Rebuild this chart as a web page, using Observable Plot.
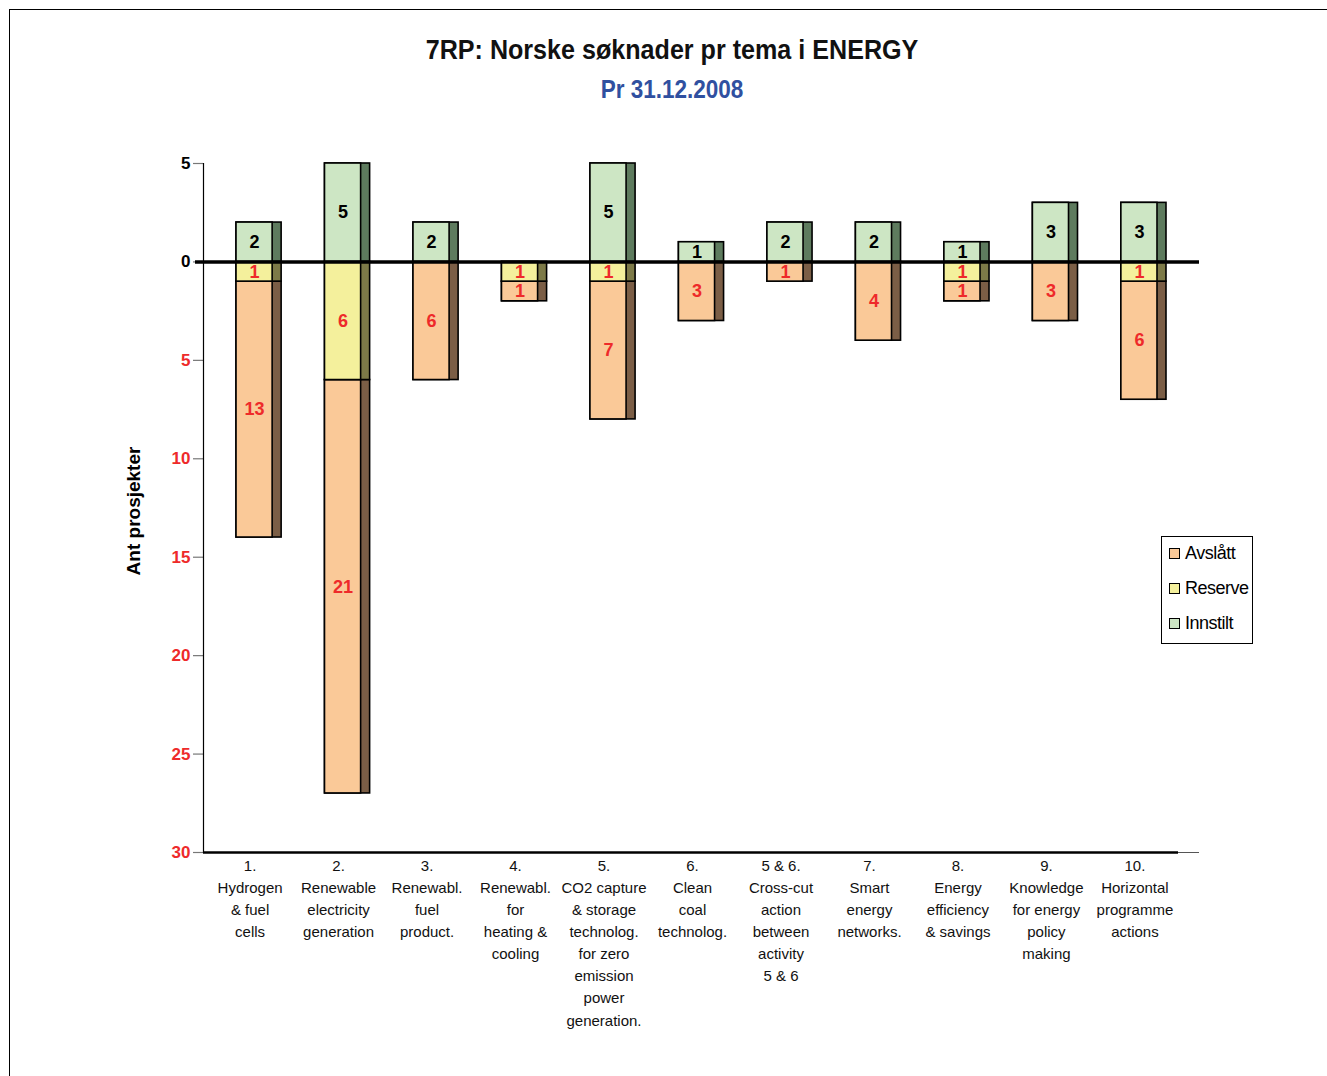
<!DOCTYPE html>
<html>
<head>
<meta charset="utf-8">
<script src="https://cdn.jsdelivr.net/npm/d3@7"></script>
<script src="https://cdn.jsdelivr.net/npm/@observablehq/plot@0.6"></script>
<style>
  html, body { margin: 0; padding: 0; background: #fff; overflow: hidden; }
  body { width: 1327px; height: 1076px; position: relative; font-family: "Liberation Sans", Arial, sans-serif; }
  #frame { position: absolute; left: 9px; top: 9px; width: 1330px; height: 1100px; border: 1px solid #000; box-sizing: border-box; }
  #title { position: absolute; left: 0; width: 1344px; top: 35px; text-align: center; font-weight: bold; font-size: 27px; color: #111; transform: scaleX(0.93); transform-origin: 672px 0; }
  #subtitle { position: absolute; left: 0; width: 1344px; top: 75px; text-align: center; font-weight: bold; font-size: 25px; color: #3050A0; transform: scaleX(0.9); transform-origin: 672px 0; }
  #chart { position: absolute; left: 0; top: 130px; }
  #legend { position: absolute; left: 1161px; top: 536px; width: 92px; height: 108px; border: 1px solid #000; background: #fff; box-sizing: border-box; font-size: 18px; letter-spacing: -0.5px; }
  .item { position: absolute; left: 7px; height: 22px; line-height: 22px; white-space: nowrap; }
  .sw { display: inline-block; width: 9px; height: 9px; border: 1px solid #000; margin-right: 5px; vertical-align: 0px; }
</style>
</head>
<body>
<div id="frame"></div>
<div id="title">7RP: Norske søknader pr tema i ENERGY</div>
<div id="subtitle">Pr 31.12.2008</div>
<div id="chart"></div>
<div id="legend"></div>
<script>
const categories = [
  "1.\nHydrogen\n& fuel\ncells",
  "2.\nRenewable\nelectricity\ngeneration",
  "3.\nRenewabl.\nfuel\nproduct.",
  "4.\nRenewabl.\nfor\nheating &\ncooling",
  "5.\nCO2 capture\n& storage\ntechnolog.\nfor zero\nemission\npower\ngeneration.",
  "6.\nClean\ncoal\ntechnolog.",
  "5 & 6.\nCross-cut\naction\nbetween\nactivity\n5 & 6",
  "7.\nSmart\nenergy\nnetworks.",
  "8.\nEnergy\nefficiency\n& savings",
  "9.\nKnowledge\nfor energy\npolicy\nmaking",
  "10.\nHorizontal\nprogramme\nactions"
];
const innstilt = [2, 5, 2, 0, 5, 1, 2, 2, 1, 3, 3];
const reserve  = [1, 6, 0, 1, 1, 0, 0, 0, 1, 0, 1];
const avslatt  = [13, 21, 6, 1, 7, 3, 1, 4, 1, 3, 6];
const seriesNames = ["Avslått", "Reserve", "Innstilt"];
const yTicks = [5, 0, -5, -10, -15, -20, -25, -30];
const yLabel = "Ant prosjekter";

const frontColor = {"Avslått": "#FAC998", "Reserve": "#F4F09C", "Innstilt": "#CDE6C4"};
const sideColor  = {"Avslått": "#7B5E46", "Reserve": "#7D7A48", "Innstilt": "#5E7B5E"};
const textColor  = {"Avslått": "#EE2A2A", "Reserve": "#EE2A2A", "Innstilt": "#000"};

// Build stacked segments (Innstilt upward, Reserve then Avslått downward)
const segments = [];
categories.forEach((c, i) => {
  if (innstilt[i] > 0) segments.push({cat: c, series: "Innstilt", y1: 0, y2: innstilt[i], value: innstilt[i]});
  if (reserve[i] > 0) segments.push({cat: c, series: "Reserve", y1: 0, y2: -reserve[i], value: reserve[i]});
  if (avslatt[i] > 0) segments.push({cat: c, series: "Avslått", y1: -reserve[i], y2: -(reserve[i] + avslatt[i]), value: avslatt[i]});
});

const marks = [];
for (const s of seriesNames) {
  const d = segments.filter(e => e.series === s);
  marks.push(Plot.barY(d, {x: "cat", y1: "y1", y2: "y2", fill: sideColor[s], stroke: "#000", strokeWidth: 1.6}));
  marks.push(Plot.barY(d, {x: "cat", y1: "y1", y2: "y2", fill: frontColor[s], stroke: "#000", strokeWidth: 1.6, insetRight: 9}));
}
for (const s of seriesNames) {
  const d = segments.filter(e => e.series === s);
  marks.push(Plot.text(d, {x: "cat", y: e => (e.y1 + e.y2) / 2, text: e => String(e.value), dx: -4.5, fill: textColor[s], fontWeight: "bold", fontSize: 18}));
}

const chart = Plot.plot({
  width: 1327,
  height: 920,
  marginTop: 33,
  marginBottom: 198,
  marginLeft: 203,
  marginRight: 128,
  style: {fontFamily: "Liberation Sans, Arial, sans-serif", background: "none", overflow: "visible"},
  x: {domain: categories, paddingInner: 0.49, paddingOuter: 0.373, round: false, axis: null},
  y: {domain: [-30, 5], axis: null},
  marks: [
    Plot.axisY({ticks: yTicks, tickSize: 10, tickFormat: () => "", stroke: "#777", strokeWidth: 1.2}),
    Plot.frame({anchor: "left", stroke: "#000", strokeWidth: 1.2}),
    Plot.text(yTicks.filter(d => d >= 0), {y: d => d, frameAnchor: "left", dx: -13, textAnchor: "end", text: d => String(Math.abs(d)), fill: "#000", fontWeight: "bold", fontSize: 17}),
    Plot.text(yTicks.filter(d => d < 0), {y: d => d, frameAnchor: "left", dx: -13, textAnchor: "end", text: d => String(Math.abs(d)), fill: "#EE2A2A", fontWeight: "bold", fontSize: 17}),
    Plot.text([yLabel], {frameAnchor: "left", dx: -70, dy: 3, rotate: -90, textAnchor: "middle", fontWeight: "bold", fontSize: 19, fill: "#000"}),
    ...marks,
    Plot.ruleY([0], {stroke: "#000", strokeWidth: 3.5, insetLeft: -8, insetRight: 0}),
    Plot.ruleY([-30], {stroke: "#555", strokeWidth: 1}),
    Plot.ruleY([-30], {stroke: "#000", strokeWidth: 2.5, insetRight: 21}),
    Plot.text(categories, {x: d => d, text: d => d, frameAnchor: "bottom", lineAnchor: "top", dy: 3, dx: -9, lineHeight: 1.47, fontSize: 15, fill: "#111"})
  ]
});
document.getElementById("chart").appendChild(chart);

const legend = document.getElementById("legend");
seriesNames.forEach((s, i) => {
  const it = document.createElement("div");
  it.className = "item";
  it.style.top = (5 + i * 35) + "px";
  it.innerHTML = `<span class="sw" style="background:${frontColor[s]}"></span>${s}`;
  legend.appendChild(it);
});
</script>
</body>
</html>
